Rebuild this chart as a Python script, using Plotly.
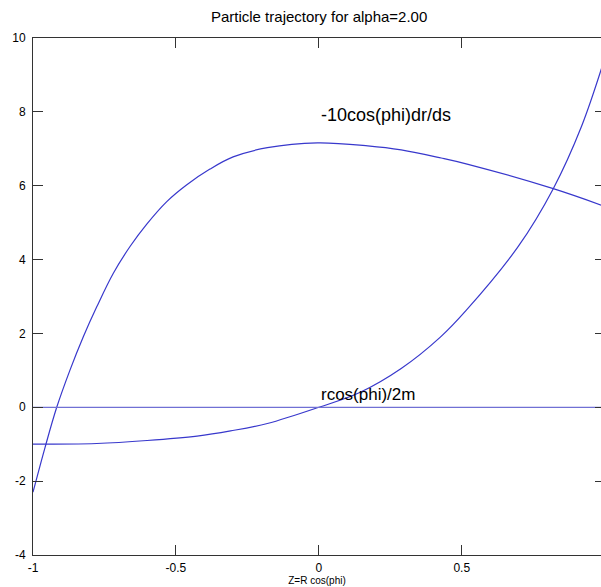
import plotly.graph_objects as go

# Curve "-10cos(phi)dr/ds"
drds_x = [-1.0, -0.958, -0.917, -0.871, -0.824, -0.777, -0.719, -0.660, -0.602,
          -0.532, -0.463, -0.381, -0.30, -0.18, -0.005, 0.171, 0.288, 0.428,
          0.522, 0.82, 1.0]
drds_y = [-2.30, -1.09, 0.0, 1.00, 1.91, 2.72, 3.63, 4.36, 4.96,
          5.57, 6.02, 6.45, 6.78, 7.03, 7.16, 7.08, 6.97, 6.75,
          6.58, 5.92, 5.44]

# Curve "rcos(phi)/2m"
rcos_x = [-1.0, -0.777, -0.601, -0.426, -0.309, -0.18, 0.0, 0.143, 0.288,
          0.425, 0.516, 0.697, 0.82, 0.919, 1.0]
rcos_y = [-1.0, -0.98, -0.90, -0.78, -0.64, -0.44, 0.0, 0.40, 1.05,
          1.90, 2.63, 4.35, 5.92, 7.61, 9.45]

# Zero line
zero_x = [-1.0, 1.0]
zero_y = [0.0, 0.0]

x_ticks = [-1, -0.5, 0, 0.5, 1]
x_tick_labels = ["-1", "-0.5", "0", "0.5", "1"]
y_ticks = [-4, -2, 0, 2, 4, 6, 8, 10]
y_tick_labels = ["-4", "-2", "0", "2", "4", "6", "8", "10"]

title = "Particle trajectory for alpha=2.00"
x_title = "Z=R cos(phi)"
label1 = "-10cos(phi)dr/ds"
label2 = "rcos(phi)/2m"

FONT = "Liberation Sans, Arial, Helvetica, sans-serif"
BLUE = "rgb(56,56,204)"

fig = go.Figure()
fig.add_trace(go.Scatter(x=zero_x, y=zero_y, mode="lines", yaxis="y2",
                         line=dict(color="rgb(112,112,212)", width=1.3),
                         hoverinfo="skip"))
fig.add_trace(go.Scatter(x=drds_x, y=drds_y, mode="lines",
                         line=dict(color=BLUE, width=1.2, shape="spline", smoothing=1.0),
                         hoverinfo="skip"))
fig.add_trace(go.Scatter(x=rcos_x, y=rcos_y, mode="lines",
                         line=dict(color=BLUE, width=1.2, shape="spline", smoothing=1.0),
                         hoverinfo="skip"))

fig.add_annotation(x=0.0, y=7.92, text=label1, showarrow=False, xanchor="left",
                   yanchor="middle", font=dict(family=FONT, size=18, color="black"))
fig.add_annotation(x=0.0, y=0.35, text=label2, showarrow=False, xanchor="left",
                   yanchor="middle", font=dict(family=FONT, size=17, color="black"))

fig.update_layout(
    width=601, height=587,
    margin=dict(l=33, r=0, t=38, b=32),
    paper_bgcolor="white", plot_bgcolor="white",
    showlegend=False,
    font=dict(family=FONT, size=12, color="black"),
    title=dict(text=title, x=0.531, xanchor="center", y=0.971, yanchor="middle",
               font=dict(family=FONT, size=15, color="black")),
    xaxis=dict(
        range=[-1, 0.987], tickvals=x_ticks, ticktext=x_tick_labels,
        ticks="inside", ticklen=10, tickcolor="#333", tickwidth=1,
        showline=True, linecolor="#333", linewidth=1, mirror="ticks",
        showgrid=False, zeroline=False, ticklabelstandoff=2, automargin=False,
        tickfont=dict(family=FONT, size=12, color="black"),
        title=dict(text=x_title, standoff=0, font=dict(family=FONT, size=10, color="black")),
    ),
    yaxis=dict(
        range=[-4, 10], tickvals=y_ticks, ticktext=y_tick_labels,
        ticks="inside", ticklen=10, tickcolor="#333", tickwidth=1,
        showline=True, linecolor="#333", linewidth=1, mirror=False,
        showgrid=False, zeroline=False, ticklabelstandoff=4, automargin=False,
        tickfont=dict(family=FONT, size=12, color="black"),
    ),
    yaxis2=dict(overlaying="y", side="right", range=[-4, 10], tickvals=y_ticks,
                ticks="inside", ticklen=6, tickcolor="#333", tickwidth=1, automargin=False,
                showticklabels=False, showline=False, showgrid=False, zeroline=False),
)

fig.write_html(
    "out.html",
    config={"displayModeBar": False},
    post_script="document.body.style.margin='0';document.documentElement.style.overflow='hidden';",
)
